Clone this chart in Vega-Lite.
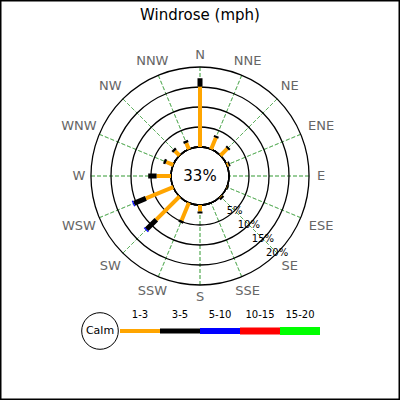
{
  "$schema": "https://vega.github.io/schema/vega-lite/v6.json",
  "width": 400,
  "height": 400,
  "autosize": "none",
  "padding": 0,
  "background": "white",
  "title": {
    "text": "Windrose (mph)",
    "font": "DejaVu Sans",
    "fontSize": 15,
    "fontWeight": "normal",
    "color": "black",
    "anchor": "middle",
    "frame": "group",
    "offset": -23
  },
  "datasets": {
    "bars": [
      {"dir": "N", "ang": 0, "cls": "1-3", "lo": 0, "hi": 15.1},
      {"dir": "N", "ang": 0, "cls": "3-5", "lo": 15.1, "hi": 17.2},
      {"dir": "NNE", "ang": 22.5, "cls": "1-3", "lo": 0, "hi": 3.1},
      {"dir": "NNE", "ang": 22.5, "cls": "3-5", "lo": 3.1, "hi": 3.6},
      {"dir": "NE", "ang": 45, "cls": "1-3", "lo": 0, "hi": 2.4},
      {"dir": "NE", "ang": 45, "cls": "3-5", "lo": 2.4, "hi": 2.9},
      {"dir": "ENE", "ang": 67.5, "cls": "1-3", "lo": 0, "hi": 0.4},
      {"dir": "ENE", "ang": 67.5, "cls": "3-5", "lo": 0.4, "hi": 0.8},
      {"dir": "ESE", "ang": 112.5, "cls": "1-3", "lo": 0, "hi": 0.1},
      {"dir": "ESE", "ang": 112.5, "cls": "3-5", "lo": 0.1, "hi": 0.4},
      {"dir": "SE", "ang": 135, "cls": "1-3", "lo": 0, "hi": 0.2},
      {"dir": "SE", "ang": 135, "cls": "3-5", "lo": 0.2, "hi": 0.7},
      {"dir": "S", "ang": 180, "cls": "1-3", "lo": 0, "hi": 1.6},
      {"dir": "S", "ang": 180, "cls": "3-5", "lo": 1.6, "hi": 2.1},
      {"dir": "SSW", "ang": 202.5, "cls": "1-3", "lo": 0, "hi": 4.8},
      {"dir": "SSW", "ang": 202.5, "cls": "3-5", "lo": 4.8, "hi": 5.4},
      {"dir": "SW", "ang": 225, "cls": "1-3", "lo": 0, "hi": 8.2},
      {"dir": "SW", "ang": 225, "cls": "3-5", "lo": 8.2, "hi": 11.6},
      {"dir": "SW", "ang": 225, "cls": "5-10", "lo": 11.6, "hi": 11.9},
      {"dir": "WSW", "ang": 247.5, "cls": "1-3", "lo": 0, "hi": 7.4},
      {"dir": "WSW", "ang": 247.5, "cls": "3-5", "lo": 7.4, "hi": 10.6},
      {"dir": "WSW", "ang": 247.5, "cls": "5-10", "lo": 10.6, "hi": 10.9},
      {"dir": "W", "ang": 270, "cls": "1-3", "lo": 0, "hi": 3.6},
      {"dir": "W", "ang": 270, "cls": "3-5", "lo": 3.6, "hi": 5.7},
      {"dir": "WNW", "ang": 292.5, "cls": "1-3", "lo": 0, "hi": 1.9},
      {"dir": "WNW", "ang": 292.5, "cls": "3-5", "lo": 1.9, "hi": 2.5},
      {"dir": "NW", "ang": 315, "cls": "1-3", "lo": 0, "hi": 1.6},
      {"dir": "NW", "ang": 315, "cls": "3-5", "lo": 1.6, "hi": 2.2},
      {"dir": "NNW", "ang": 337.5, "cls": "1-3", "lo": 0, "hi": 1.7},
      {"dir": "NNW", "ang": 337.5, "cls": "3-5", "lo": 1.7, "hi": 2.3}
    ],
    "dirs": [
      {"dir": "N", "ang": 0, "grp": "card"},
      {"dir": "NNE", "ang": 22.5, "grp": "ns"},
      {"dir": "NE", "ang": 45, "grp": "inter"},
      {"dir": "ENE", "ang": 67.5, "grp": "ew"},
      {"dir": "E", "ang": 90, "grp": "card"},
      {"dir": "ESE", "ang": 112.5, "grp": "ew"},
      {"dir": "SE", "ang": 135, "grp": "inter"},
      {"dir": "SSE", "ang": 157.5, "grp": "ns"},
      {"dir": "S", "ang": 180, "grp": "card"},
      {"dir": "SSW", "ang": 202.5, "grp": "ns"},
      {"dir": "SW", "ang": 225, "grp": "inter"},
      {"dir": "WSW", "ang": 247.5, "grp": "ew"},
      {"dir": "W", "ang": 270, "grp": "card"},
      {"dir": "WNW", "ang": 292.5, "grp": "ew"},
      {"dir": "NW", "ang": 315, "grp": "inter"},
      {"dir": "NNW", "ang": 337.5, "grp": "ns"}
    ],
    "rings": [
      {"ring": 0, "lab": ""},
      {"ring": 5, "lab": "5%"},
      {"ring": 10, "lab": "10%"},
      {"ring": 15, "lab": "15%"},
      {"ring": 20, "lab": "20%"}
    ],
    "calm": [{"calm": 0.33}],
    "classes": [
      {"cls": "1-3"},
      {"cls": "3-5"},
      {"cls": "5-10"},
      {"cls": "10-15"},
      {"cls": "15-20"}
    ]
  },
  "layer": [
    {
      "data": {"name": "dirs"},
      "mark": {"type": "arc", "fill": null, "stroke": "#4da64d", "strokeWidth": 0.7, "strokeDash": [4, 2], "yOffset": -24},
      "encoding": {
        "theta": {"field": "ang", "type": "quantitative", "stack": null, "scale": {"type": "linear", "domain": [0, 360], "range": [0, 6.283185307179586]}},
        "theta2": {"field": "ang"},
        "radius": {"datum": 20, "type": "quantitative", "stack": null, "scale": {"type": "linear", "domain": [0, 20], "range": [29, 109], "zero": false}},
        "radius2": {"datum": 0}
      }
    },
    {
      "data": {"name": "rings"},
      "mark": {"type": "arc", "fill": null, "stroke": "black", "strokeWidth": 1.3, "yOffset": -24},
      "encoding": {
        "theta": {"datum": 0, "type": "quantitative", "stack": null},
        "theta2": {"datum": 360},
        "radius": {"field": "ring", "type": "quantitative", "stack": null}
      }
    },
    {
      "data": {"name": "bars"},
      "mark": {"type": "arc", "fill": null, "strokeJoin": "miter", "strokeCap": "butt", "yOffset": -24},
      "encoding": {
        "theta": {"field": "ang", "type": "quantitative", "stack": null},
        "theta2": {"field": "ang"},
        "radius": {"field": "hi", "type": "quantitative", "stack": null},
        "radius2": {"field": "lo"},
        "stroke": {"field": "cls", "type": "nominal", "legend": null, "scale": {"domain": ["1-3", "3-5", "5-10", "10-15", "15-20"], "range": ["#ffa500", "#000000", "#0000ff", "#ff0000", "#00ff00"]}},
        "strokeWidth": {"field": "cls", "type": "ordinal", "legend": null, "scale": {"domain": ["1-3", "3-5", "5-10", "10-15", "15-20"], "range": [4, 8, 12, 16, 20]}}
      }
    },
    {
      "data": {"name": "rings"},
      "transform": [{"filter": "datum.ring > 0"}],
      "mark": {"type": "text", "font": "DejaVu Sans", "fontSize": 10, "color": "black", "align": "center", "baseline": "middle", "yOffset": -24},
      "encoding": {
        "theta": {"datum": 135, "type": "quantitative", "stack": null},
        "radius": {"field": "ring", "type": "quantitative", "stack": null},
        "text": {"field": "lab"}
      }
    },
    {
      "data": {"name": "dirs"},
      "transform": [{"filter": "datum.grp == 'card'"}],
      "mark": {"type": "text", "font": "DejaVu Sans", "fontSize": 13, "color": "#666666", "align": "center", "baseline": "middle", "yOffset": -24},
      "encoding": {
        "theta": {"field": "ang", "type": "quantitative", "stack": null},
        "radius": {"datum": 23, "type": "quantitative", "stack": null},
        "text": {"field": "dir"}
      }
    },
    {
      "data": {"name": "dirs"},
      "transform": [{"filter": "datum.grp == 'ns'"}],
      "mark": {"type": "text", "font": "DejaVu Sans", "fontSize": 13, "color": "#666666", "align": "center", "baseline": "middle", "yOffset": -24},
      "encoding": {
        "theta": {"field": "ang", "type": "quantitative", "stack": null},
        "radius": {"datum": 23.9, "type": "quantitative", "stack": null},
        "text": {"field": "dir"}
      }
    },
    {
      "data": {"name": "dirs"},
      "transform": [{"filter": "datum.grp == 'inter'"}],
      "mark": {"type": "text", "font": "DejaVu Sans", "fontSize": 13, "color": "#666666", "align": "center", "baseline": "middle", "yOffset": -24},
      "encoding": {
        "theta": {"field": "ang", "type": "quantitative", "stack": null},
        "radius": {"datum": 24.5, "type": "quantitative", "stack": null},
        "text": {"field": "dir"}
      }
    },
    {
      "data": {"name": "dirs"},
      "transform": [{"filter": "datum.grp == 'ew'"}],
      "mark": {"type": "text", "font": "DejaVu Sans", "fontSize": 13, "color": "#666666", "align": "center", "baseline": "middle", "yOffset": -24},
      "encoding": {
        "theta": {"field": "ang", "type": "quantitative", "stack": null},
        "radius": {"datum": 25.5, "type": "quantitative", "stack": null},
        "text": {"field": "dir"}
      }
    },
    {
      "data": {"name": "calm"},
      "mark": {"type": "text", "font": "DejaVu Sans", "fontSize": 15, "color": "black", "align": "center", "baseline": "middle", "yOffset": -24},
      "encoding": {
        "text": {"field": "calm", "type": "quantitative", "format": ".0%"}
      }
    },
    {
      "data": {"name": "classes"},
      "mark": {"type": "rule", "strokeCap": "butt", "yOffset": 131},
      "encoding": {
        "x": {"field": "cls", "type": "nominal", "bandPosition": 0, "axis": null, "scale": {"type": "band", "domain": ["Calm", "1-3", "3-5", "5-10", "10-15", "15-20"], "range": [80, 320], "paddingInner": 0, "paddingOuter": 0}},
        "x2": {"field": "cls", "bandPosition": 1},
        "stroke": {"field": "cls", "type": "nominal", "legend": null},
        "strokeWidth": {"field": "cls", "type": "ordinal", "legend": null}
      }
    },
    {
      "data": {"name": "classes"},
      "mark": {"type": "text", "font": "DejaVu Sans", "fontSize": 10, "color": "black", "align": "center", "baseline": "middle", "yOffset": 115},
      "encoding": {
        "x": {"field": "cls", "type": "nominal", "axis": null},
        "text": {"field": "cls"}
      }
    },
    {
      "data": {"name": "calm"},
      "mark": {"type": "point", "shape": "circle", "filled": true, "fill": "white", "stroke": "black", "strokeWidth": 1, "size": 1340, "opacity": 1, "yOffset": 131},
      "encoding": {
        "x": {"datum": "Calm", "type": "nominal", "axis": null}
      }
    },
    {
      "data": {"name": "calm"},
      "mark": {"type": "text", "font": "DejaVu Sans", "fontSize": 11, "color": "black", "align": "center", "baseline": "middle", "text": "Calm", "yOffset": 131},
      "encoding": {
        "x": {"datum": "Calm", "type": "nominal", "axis": null}
      }
    }
  ],
  "config": {
    "font": "DejaVu Sans",
    "view": {"stroke": "black", "strokeWidth": 3}
  }
}
